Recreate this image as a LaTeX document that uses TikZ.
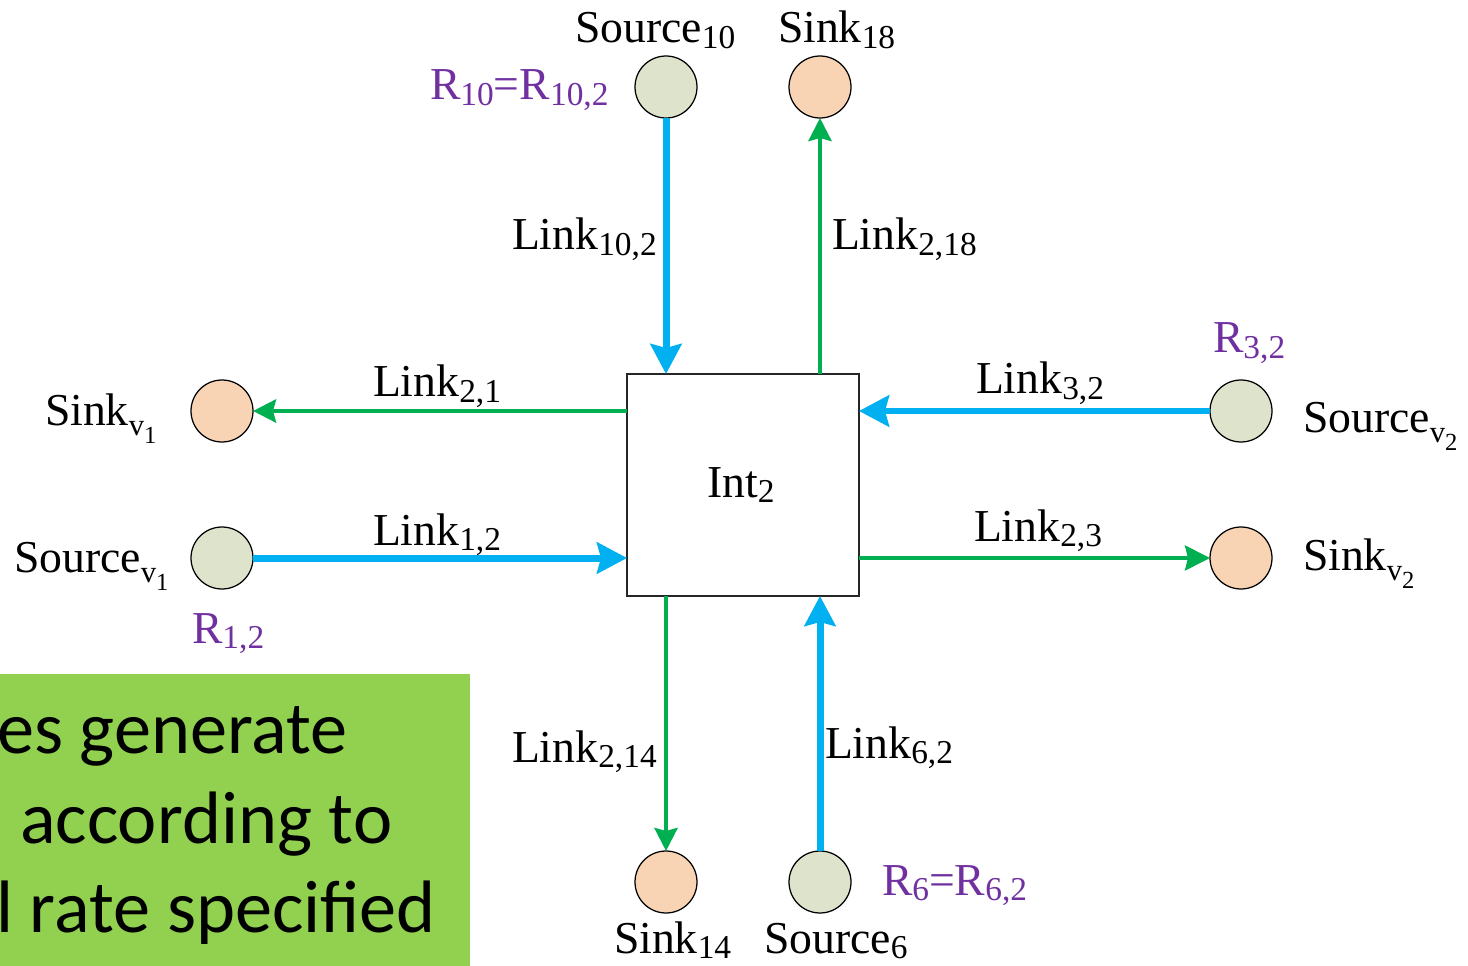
\documentclass[tikz,border=0pt]{standalone}
\usepackage{fontspec}
\newfontfamily\tmsfont{Liberation Serif}
\newfontfamily\calfont{Carlito}
\usetikzlibrary{arrows.meta}
\definecolor{lkblue}{HTML}{00B0F0}
\definecolor{lkgreen}{HTML}{00B050}
\definecolor{rpurple}{HTML}{7030A0}
\definecolor{srcfill}{HTML}{DEE3CC}
\definecolor{snkfill}{HTML}{F8D4B4}
\definecolor{notegreen}{HTML}{92D050}
\newcommand{\mysub}[1]{\raisebox{-3.4pt}{\tmsfont\fontsize{19}{19}\selectfont #1}}
\newcommand{\myvsub}[1]{\raisebox{-5.7pt}{\tmsfont\fontsize{17.5}{17.5}\selectfont v}\raisebox{-10.8pt}{\tmsfont\fontsize{14}{14}\selectfont #1}}
\begin{document}
\begin{tikzpicture}[x=0.02cm,y=-0.02cm,
  every node/.style={inner sep=0pt, outer sep=0pt},
  lbl/.style={anchor=base west, font=\tmsfont\fontsize{26}{26}\selectfont},
  rlbl/.style={lbl, text=rpurple},
  srcc/.style={circle, draw=black, line width=0.025cm, fill=srcfill, minimum size=1.24cm},
  snkc/.style={circle, draw=black, line width=0.025cm, fill=snkfill, minimum size=1.24cm},
  intbox/.style={rectangle, draw=black!85, line width=0.04cm, minimum width=4.64cm, minimum height=4.44cm},
  bluearr/.style={draw=lkblue, line width=0.14cm, -{Stealth[length=0.6cm, width=0.62cm, inset=0.08cm]}},
  greenarr/.style={draw=lkgreen, line width=0.09cm, -{Stealth[length=0.46cm, width=0.46cm, inset=0.06cm]}},
  greenthin/.style={draw=lkgreen, line width=0.07cm, -{Stealth[length=0.5cm, width=0.5cm, inset=0.06cm]}},
  notetext/.style={anchor=base west, font=\calfont\fontsize{42.3}{42.3}\selectfont}
]
\useasboundingbox (0,0) rectangle (1468,966);

% green note box (clipped at its left edge, as in the reference)
\begin{scope}
  \clip (0,674) rectangle (470,966);
  \fill[notegreen] (0,674) rectangle (470,966);
  \node[notetext] (n1) at (-3,753) {es generate};
  \node[notetext] (n2) at (20,843) {according to};
  \node[notetext] (n3) at (-4,932) {l rate specified};
\end{scope}

% central box
\node[intbox] (int) at (743,485) {};
\node[lbl] (intl) at (707,497) {Int\mysub{2}};

% circles
\node[srcc] (s10) at (666,87) {};
\node[snkc] (s18) at (820,87) {};
\node[snkc] (snkv1) at (222,411) {};
\node[srcc] (srcv1) at (222,558) {};
\node[srcc] (srcv2) at (1241,411) {};
\node[snkc] (snkv2) at (1241,558) {};
\node[snkc] (snk14) at (666,882) {};
\node[srcc] (src6) at (820,882) {};

% connectors
\draw[bluearr] (s10) -- (s10 |- int.north);
\draw[greenarr] (s18 |- int.north) -- (s18);
\draw[greenarr] (int.west |- snkv1) -- (snkv1);
\draw[bluearr] (srcv1) -- (int.west |- srcv1);
\draw[bluearr] (srcv2) -- (int.east |- srcv2);
\draw[greenthin] (int.east |- snkv2) -- (snkv2);
\draw[greenarr] (snk14 |- int.south) -- (snk14);
\draw[bluearr] (src6) -- (src6 |- int.south);

% labels
\node[lbl] (ls10) at (575,43) {Source\mysub{10}};
\node[lbl] (ls18) at (778,43) {Sink\mysub{18}};
\node[rlbl] (r10) at (430,100) {R\mysub{10}=R\mysub{10,2}};
\node[lbl] (l102) at (512,250) {Link\mysub{10,2}};
\node[lbl] (l218) at (832,250) {Link\mysub{2,18}};
\node[lbl] (l21) at (373,397) {Link\mysub{2,1}};
\node[lbl] (l32) at (976,394) {Link\mysub{3,2}};
\node[rlbl] (r32) at (1213,353) {R\mysub{3,2}};
\node[lbl] (lsnkv1) at (45,425) {Sink\myvsub{1}};
\node[lbl] (lsrcv2) at (1303,432) {Source\myvsub{2}};
\node[lbl] (l12) at (373,545) {Link\mysub{1,2}};
\node[lbl] (l23) at (974,541) {Link\mysub{2,3}};
\node[lbl] (lsrcv1) at (14,572) {Source\myvsub{1}};
\node[lbl] (lsnkv2) at (1303,570) {Sink\myvsub{2}};
\node[rlbl] (r12) at (192,643) {R\mysub{1,2}};
\node[lbl] (l214) at (512,762) {Link\mysub{2,14}};
\node[lbl] (l62) at (825,758) {Link\mysub{6,2}};
\node[rlbl] (r6) at (882,895) {R\mysub{6}=R\mysub{6,2}};
\node[lbl] (lsnk14) at (614,953) {Sink\mysub{14}};
\node[lbl] (lsrc6) at (764,953) {Source\mysub{6}};
\end{tikzpicture}
\end{document}
